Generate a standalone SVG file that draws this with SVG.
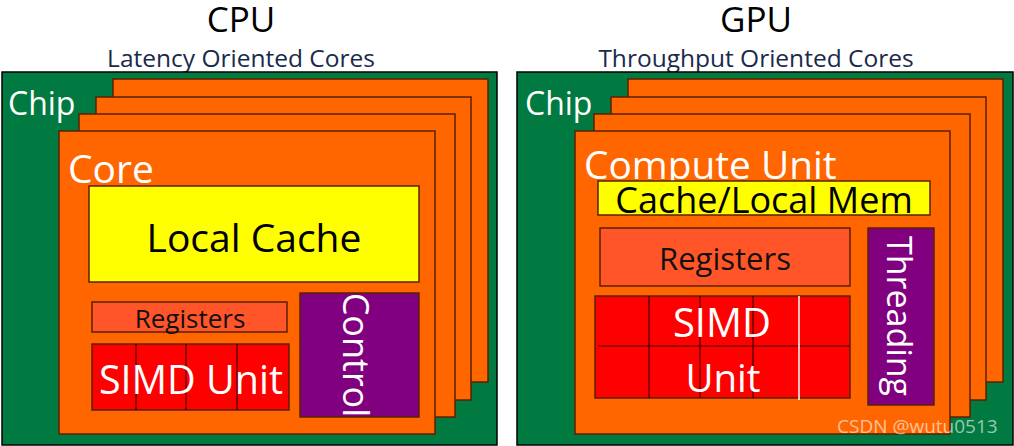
<svg xmlns="http://www.w3.org/2000/svg" width="1014" height="446" viewBox="0 0 1014 446">
<style>
text{font-family:"Open Sans","Noto Sans","DejaVu Sans",sans-serif}
.chip{fill:#007A40;stroke:#000;stroke-width:1.5}
.card{fill:#FF6600;stroke:#5a2000;stroke-width:1.5}
.cache{fill:#FFFF00;stroke:#5a2000;stroke-width:1.5}
.reg{fill:#FF5528;stroke:#5a2000;stroke-width:1.5}
.simd{fill:#FF0000;stroke:#5a2000;stroke-width:1.5}
.ctl{fill:#800080;stroke:#5a2000;stroke-width:1.5}
.div{stroke:#400000;stroke-width:1.2}
.w{fill:#fff}
.k{fill:#000}
.sub{fill:#1a2a4a}
</style>
<rect width="1014" height="446" fill="#fff"/>
<g id="titles">
<text x="241" y="32" font-size="35" text-anchor="middle" class="k">CPU</text>
<text x="241" y="67" font-size="24.5" text-anchor="middle" class="sub">Latency Oriented Cores</text>
<text x="756" y="32" font-size="35" text-anchor="middle" class="k">GPU</text>
<text x="756" y="67" font-size="24.5" text-anchor="middle" class="sub">Throughput Oriented Cores</text>
</g>
<g id="cpu-chip">
<rect x="2" y="72" width="495" height="373" class="chip"/>
<text x="8" y="115" font-size="32" class="w">Chip</text>
</g>
<g id="cpu-cores-back">
<rect x="113" y="79" width="375" height="303" class="card"/>
<rect x="96" y="97" width="375" height="303" class="card"/>
<rect x="79" y="114" width="376" height="303" class="card"/>
</g>
<g id="cpu-core">
<rect x="59" y="131" width="376" height="303" class="card"/>
<text x="68" y="183" font-size="39" class="w">Core</text>
</g>
<g id="cpu-cache">
<rect x="89" y="186" width="330" height="96" class="cache"/>
<text x="254" y="252" font-size="39" text-anchor="middle" class="k">Local Cache</text>
</g>
<g id="cpu-registers">
<rect x="92" y="302" width="195" height="30" class="reg"/>
<text x="190" y="328" font-size="26" text-anchor="middle" fill="#111">Registers</text>
</g>
<g id="cpu-simd">
<rect x="92" y="344" width="197" height="66" class="simd"/>
<line x1="136" y1="344" x2="136" y2="410" class="div"/>
<line x1="186" y1="344" x2="186" y2="410" class="div"/>
<line x1="237" y1="344" x2="237" y2="410" class="div"/>
<text x="191" y="394" font-size="39.5" text-anchor="middle" class="w">SIMD Unit</text>
</g>
<g id="cpu-control">
<rect x="300" y="293" width="119" height="124" class="ctl"/>
<text transform="translate(343,355) rotate(90)" font-size="36" text-anchor="middle" class="w">Control</text>
</g>
<g id="gpu-chip">
<rect x="517" y="72" width="496" height="373" class="chip"/>
<text x="525" y="115" font-size="32" class="w">Chip</text>
</g>
<g id="gpu-cores-back">
<rect x="628" y="79" width="375" height="303" class="card"/>
<rect x="611" y="97" width="375" height="303" class="card"/>
<rect x="594" y="114" width="376" height="303" class="card"/>
</g>
<g id="gpu-cu">
<rect x="575" y="131" width="375" height="303" class="card"/>
<text x="584" y="179" font-size="38.8" class="w">Compute Unit</text>
</g>
<g id="gpu-cache">
<rect x="598" y="181" width="332" height="34" class="cache"/>
<text x="764" y="213" font-size="36" text-anchor="middle" class="k">Cache/Local Mem</text>
</g>
<g id="gpu-registers">
<rect x="600" y="228" width="250" height="58" class="reg"/>
<text x="725" y="270" font-size="31" text-anchor="middle" fill="#111">Registers</text>
</g>
<g id="gpu-simd">
<rect x="595" y="296" width="255" height="102" class="simd"/>
<line x1="649" y1="296" x2="649" y2="398" class="div"/>
<line x1="700" y1="296" x2="700" y2="398" class="div"/>
<line x1="753" y1="296" x2="753" y2="398" class="div"/>
<line x1="598" y1="346" x2="850" y2="346" class="div"/>
<line x1="799" y1="296" x2="799" y2="400" stroke="#fff" stroke-width="1.5"/>
<text x="722" y="337" font-size="40" text-anchor="middle" class="w">SIMD</text>
<text x="723" y="392" font-size="38.5" text-anchor="middle" class="w">Unit</text>
</g>
<g id="gpu-threading">
<rect x="868" y="228" width="66" height="177" class="ctl"/>
<text transform="translate(887,316) rotate(90)" font-size="34" text-anchor="middle" class="w">Threading</text>
</g>
<g id="watermark">
<text x="837" y="433" font-size="19" fill="#fff" fill-opacity="0.6">CSDN @wutu0513</text>
</g>
</svg>
